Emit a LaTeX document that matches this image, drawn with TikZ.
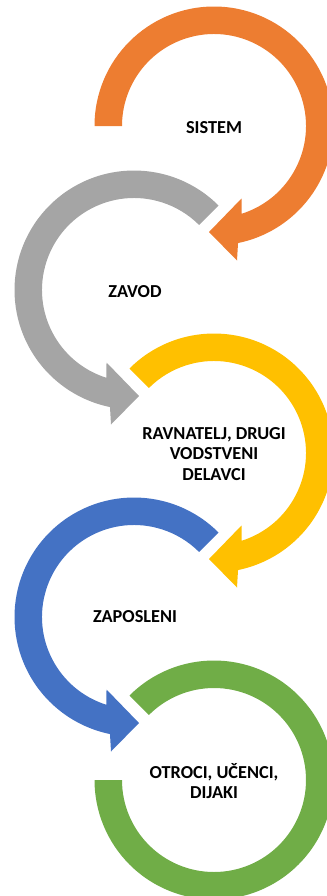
\documentclass[tikz,border=0pt]{standalone}
\usepackage{fontspec}
\setmainfont{Carlito}

\definecolor{sysorange}{HTML}{ED7D31}
\definecolor{instgray}{HTML}{A5A5A5}
\definecolor{leadyellow}{HTML}{FFC000}
\definecolor{staffblue}{HTML}{4472C4}
\definecolor{kidsgreen}{HTML}{70AD47}

\tikzset{
  level/.style={font=\bfseries\fontsize{13}{14.8}\selectfont, align=center, text=black}
}

\begin{document}
\begin{tikzpicture}[x=0.025cm, y=0.025cm]

    \useasboundingbox (0, 0) rectangle (327, -896);

    \def\ro{119.5};
    \def\ri{92};

    \foreach \cy/\a/\col in {-126/180/sysorange, -453/135/leadyellow} {
      \fill[\col, shift={(214, \cy)}] (\a:\ro) arc[start angle=\a, end angle=-78.4, radius=\ro]
        -- (23, -134.5) -- (-5, -106) -- (27.5, -72.5)
        -- (-72.6:\ri) arc[start angle=-72.6, end angle=\a, radius=\ri] -- cycle;
    }

    \foreach \cy/\col in {-290/instgray, -617/staffblue} {
      \fill[\col, shift={(134, \cy)}] (45:\ro) arc[start angle=45, end angle=258.4, radius=\ro]
        -- (-23, -134.5) -- (5, -106) -- (-27.5, -72.5)
        -- (252.6:\ri) arc[start angle=252.6, end angle=45, radius=\ri] -- cycle;
    }

    \fill[kidsgreen, shift={(214, -780)}] (135:\ro) arc[start angle=135, end angle=-180, radius=\ro]
      -- (180:\ri) arc[start angle=-180, end angle=135, radius=\ri] -- cycle;

    \node[level] (sistem)    at (214, -128) {SISTEM};
    \node[level] (zavod)     at (135, -292) {ZAVOD};
    \node[level] (ravnatelj) at (214, -454) {RAVNATELJ, DRUGI\\VODSTVENI\\DELAVCI};
    \node[level] (zaposleni) at (135, -617) {ZAPOSLENI};
    \node[level] (otroci)    at (214, -781) {OTROCI, UČENCI,\\DIJAKI};

\end{tikzpicture}
\end{document}
